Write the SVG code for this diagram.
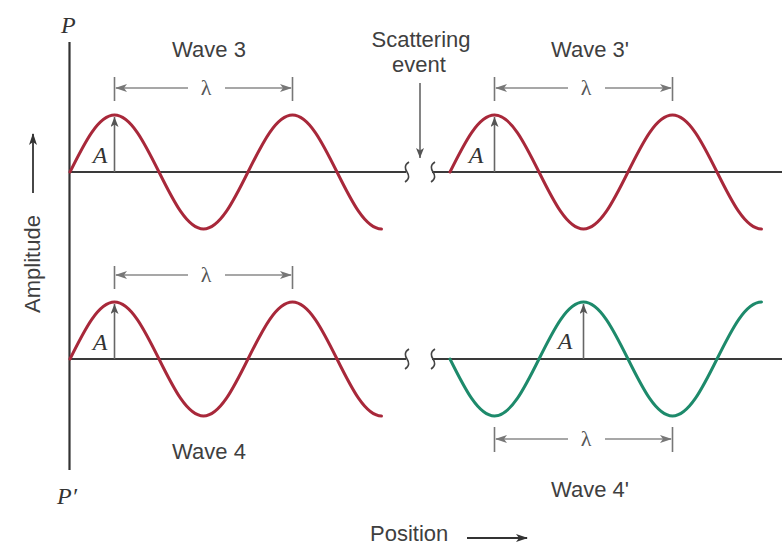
<svg xmlns="http://www.w3.org/2000/svg" xmlns:xlink="http://www.w3.org/1999/xlink" width="784" height="548" viewBox="0 0 784 548">
<style>
.lbl{font-family:"Liberation Sans",Arial,sans-serif;font-size:22px;fill:#3f3f3f}
.sym{font-family:"Liberation Serif","Times New Roman",serif;font-style:italic;font-size:24px;fill:#333}
.lam{font-family:"Liberation Serif","Times New Roman",serif;font-size:22px;fill:#555}
.axis{stroke:#333;stroke-width:2.2;fill:none}
.base{stroke:#3a3a3a;stroke-width:2;fill:none}
.brk{stroke:#444;stroke-width:1.6;fill:none}
.dim{stroke:#8a8a8a;stroke-width:1.5;fill:none}
.tick{stroke:#777;stroke-width:1.6;fill:none}
.amp{stroke:#666;stroke-width:1.6;fill:none}
.red{stroke:#a8283a;stroke-width:3;fill:none;stroke-linecap:round}
.green{stroke:#1d8a6b;stroke-width:3;fill:none;stroke-linecap:round}
.dark{stroke:#333;stroke-width:1.8;fill:none}
</style>
<defs>
<marker id="ah" viewBox="0 0 12 8" refX="11" refY="4" markerWidth="12" markerHeight="8" markerUnits="userSpaceOnUse" orient="auto-start-reverse">
<path d="M0,0 L12,4 L0,8 L3,4 Z" fill="#777"/>
</marker>
<marker id="ahA" viewBox="0 0 10 8" refX="10" refY="4" markerWidth="10" markerHeight="8" markerUnits="userSpaceOnUse" orient="auto">
<path d="M0,0 L10,4 L0,8 L2.5,4 Z" fill="#555"/>
</marker>
<marker id="ahD" viewBox="0 0 12 8" refX="11" refY="4" markerWidth="12" markerHeight="8" markerUnits="userSpaceOnUse" orient="auto">
<path d="M0,0 L12,4 L0,8 L3,4 Z" fill="#333"/>
</marker>
<path id="wave" d="M0,0 C14.5,-29.2 28.4,-57 44.5,-57 C60.6,-57 74.5,-29.2 89,0 C103.5,29.2 117.4,57 133.5,57 C149.6,57 163.5,29.2 178,0 C192.5,-29.2 206.4,-57 222.5,-57 C238.6,-57 252.5,-29.2 267,0 C281.5,29.2 295.4,57 311.5,57"/>
<path id="brk" d="M2,-10 C-3,-7 -2,-3 0,0 C2,3 3,7 -2,10"/>
</defs>

<g id="axes">
<line class="axis" x1="69.5" y1="42" x2="69.5" y2="470"/>
<text class="sym" x="61" y="33">P</text>
<text class="sym" x="57" y="504">P′</text>
<text class="lbl" transform="translate(40,264) rotate(-90)" text-anchor="middle">Amplitude</text>
<line class="dark" x1="33" y1="193" x2="33" y2="134" marker-end="url(#ahD)"/>
<text class="lbl" x="370" y="541">Position</text>
<line class="dark" x1="467" y1="538" x2="527" y2="538" marker-end="url(#ahD)"/>
</g>

<g id="baselines">
<line class="base" x1="69.5" y1="172" x2="406" y2="172"/>
<line class="base" x1="432" y1="172" x2="782" y2="172"/>
<line class="base" x1="69.5" y1="359" x2="406" y2="359"/>
<line class="base" x1="432" y1="359" x2="782" y2="359"/>
<use xlink:href="#brk" class="brk" transform="translate(407,172)"/>
<use xlink:href="#brk" class="brk" transform="translate(433,172)"/>
<use xlink:href="#brk" class="brk" transform="translate(407,359)"/>
<use xlink:href="#brk" class="brk" transform="translate(433,359)"/>
</g>

<g id="scattering">
<text class="lbl" x="421" y="47" text-anchor="middle">Scattering</text>
<text class="lbl" x="419" y="72" text-anchor="middle">event</text>
<line class="amp" x1="420" y1="83" x2="420" y2="158" marker-end="url(#ahA)"/>
</g>

<g id="wave3">
<use xlink:href="#wave" class="red" transform="translate(70,172)"/>
<text class="lbl" x="209" y="57" text-anchor="middle">Wave 3</text>
<line class="tick" x1="114.5" y1="77" x2="114.5" y2="101"/>
<line class="tick" x1="292.5" y1="77" x2="292.5" y2="101"/>
<line class="dim" x1="188" y1="88" x2="116" y2="88" marker-end="url(#ah)"/>
<line class="dim" x1="225" y1="88" x2="291" y2="88" marker-end="url(#ah)"/>
<text class="lam" x="206" y="95" text-anchor="middle">λ</text>
<line class="amp" x1="114.5" y1="172" x2="114.5" y2="117" marker-end="url(#ahA)"/>
<text class="sym" x="100" y="163" text-anchor="middle">A</text>
</g>

<g id="wave3p">
<use xlink:href="#wave" class="red" transform="translate(450,172)"/>
<text class="lbl" x="590" y="57" text-anchor="middle">Wave 3'</text>
<line class="tick" x1="494.5" y1="77" x2="494.5" y2="101"/>
<line class="tick" x1="672.5" y1="77" x2="672.5" y2="101"/>
<line class="dim" x1="568" y1="88" x2="496" y2="88" marker-end="url(#ah)"/>
<line class="dim" x1="605" y1="88" x2="671" y2="88" marker-end="url(#ah)"/>
<text class="lam" x="586" y="95" text-anchor="middle">λ</text>
<line class="amp" x1="494.5" y1="172" x2="494.5" y2="117" marker-end="url(#ahA)"/>
<text class="sym" x="476" y="163" text-anchor="middle">A</text>
</g>

<g id="wave4">
<use xlink:href="#wave" class="red" transform="translate(70,359)"/>
<text class="lbl" x="209" y="459" text-anchor="middle">Wave 4</text>
<line class="tick" x1="114.5" y1="266" x2="114.5" y2="289"/>
<line class="tick" x1="292.5" y1="266" x2="292.5" y2="289"/>
<line class="dim" x1="188" y1="275" x2="116" y2="275" marker-end="url(#ah)"/>
<line class="dim" x1="225" y1="275" x2="291" y2="275" marker-end="url(#ah)"/>
<text class="lam" x="206" y="282" text-anchor="middle">λ</text>
<line class="amp" x1="114.5" y1="359" x2="114.5" y2="304" marker-end="url(#ahA)"/>
<text class="sym" x="100" y="350" text-anchor="middle">A</text>
</g>

<g id="wave4p">
<use xlink:href="#wave" class="green" transform="translate(450,359) scale(1,-1)"/>
<text class="lbl" x="590" y="497" text-anchor="middle">Wave 4'</text>
<line class="tick" x1="494.5" y1="427" x2="494.5" y2="452"/>
<line class="tick" x1="672.5" y1="427" x2="672.5" y2="452"/>
<line class="dim" x1="568" y1="439" x2="496" y2="439" marker-end="url(#ah)"/>
<line class="dim" x1="605" y1="439" x2="671" y2="439" marker-end="url(#ah)"/>
<text class="lam" x="586" y="446" text-anchor="middle">λ</text>
<line class="amp" x1="583.5" y1="359" x2="583.5" y2="304" marker-end="url(#ahA)"/>
<text class="sym" x="565" y="349" text-anchor="middle">A</text>
</g>
</svg>
